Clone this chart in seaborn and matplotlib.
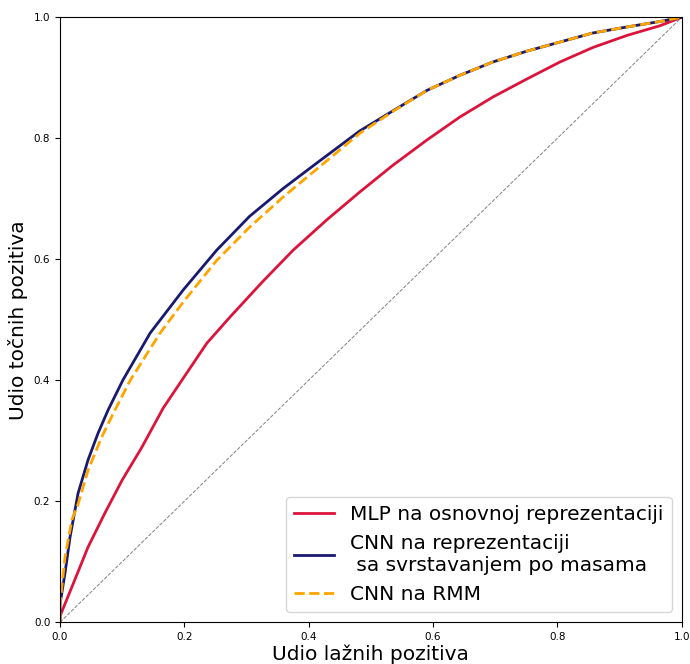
import matplotlib
matplotlib.use("Agg")
import matplotlib.pyplot as plt
import seaborn as sns

# ROC curves
mlp_fpr = [0, 0.0, 0.019, 0.045, 0.072, 0.1, 0.131, 0.166, 0.198, 0.236, 0.273, 0.325, 0.375, 0.429,
           0.482, 0.535, 0.590, 0.643, 0.696, 0.751, 0.804, 0.857, 0.912, 0.965, 1.0]
mlp_tpr = [0, 0.01, 0.058, 0.124, 0.18, 0.235, 0.288, 0.354, 0.403, 0.461, 0.504, 0.562, 0.615, 0.665,
           0.711, 0.755, 0.797, 0.835, 0.868, 0.898, 0.926, 0.950, 0.970, 0.986, 1.0]

cnn_fpr = [0, 0, 0.008, 0.016, 0.029, 0.045, 0.061, 0.077, 0.101, 0.145, 0.198, 0.252, 0.305, 0.359,
           0.413, 0.482, 0.535, 0.590, 0.643, 0.696, 0.751, 0.804, 0.857, 0.912, 0.965, 1.0]
cnn_tpr = [0, 0.03, 0.081, 0.14, 0.213, 0.268, 0.312, 0.35, 0.40, 0.478, 0.549, 0.615, 0.671, 0.717,
           0.759, 0.812, 0.845, 0.879, 0.904, 0.926, 0.944, 0.959, 0.974, 0.984, 0.993, 1.0]

rmm_fpr = [0, 0, 0.008, 0.019, 0.029, 0.045, 0.067, 0.088, 0.113, 0.161, 0.198, 0.252, 0.305, 0.359,
           0.413, 0.482, 0.535, 0.590, 0.643, 0.696, 0.751, 0.804, 0.857, 0.912, 0.965, 1.0]
rmm_tpr = [0, 0.03, 0.107, 0.169, 0.195, 0.251, 0.306, 0.35, 0.40, 0.478, 0.529, 0.598, 0.653, 0.703,
           0.749, 0.808, 0.844, 0.879, 0.904, 0.926, 0.944, 0.959, 0.974, 0.984, 0.993, 1.0]

diag = [0, 1]

labels = ["MLP na osnovnoj reprezentaciji",
          "CNN na reprezentaciji\n sa svrstavanjem po masama",
          "CNN na RMM"]

def main():
    fig, ax = plt.subplots(figsize=(6.9, 6.64), dpi=100)
    fig.subplots_adjust(left=0.087, right=0.988, top=0.974, bottom=0.063)

    sns.lineplot(x=diag, y=diag, ax=ax, color="gray", linestyle="--", linewidth=0.7)
    sns.lineplot(x=mlp_fpr, y=mlp_tpr, ax=ax, sort=False, estimator=None,
                 color="crimson", linewidth=2, label=labels[0])
    sns.lineplot(x=cnn_fpr, y=cnn_tpr, ax=ax, sort=False, estimator=None,
                 color="midnightblue", linewidth=2, label=labels[1])
    sns.lineplot(x=rmm_fpr, y=rmm_tpr, ax=ax, sort=False, estimator=None,
                 color="orange", linewidth=2, linestyle="--", label=labels[2])

    ax.set_xlim(0, 1)
    ax.set_ylim(0, 1)
    ax.tick_params(labelsize=7.5)
    ax.set_xlabel("Udio lažnih pozitiva", fontsize=14.5, labelpad=2)
    ax.set_ylabel("Udio točnih pozitiva", fontsize=14.5)
    ax.legend(loc="lower right", fontsize=14.5)

    plt.savefig("out.png", dpi=100)

if __name__ == "__main__":
    main()
